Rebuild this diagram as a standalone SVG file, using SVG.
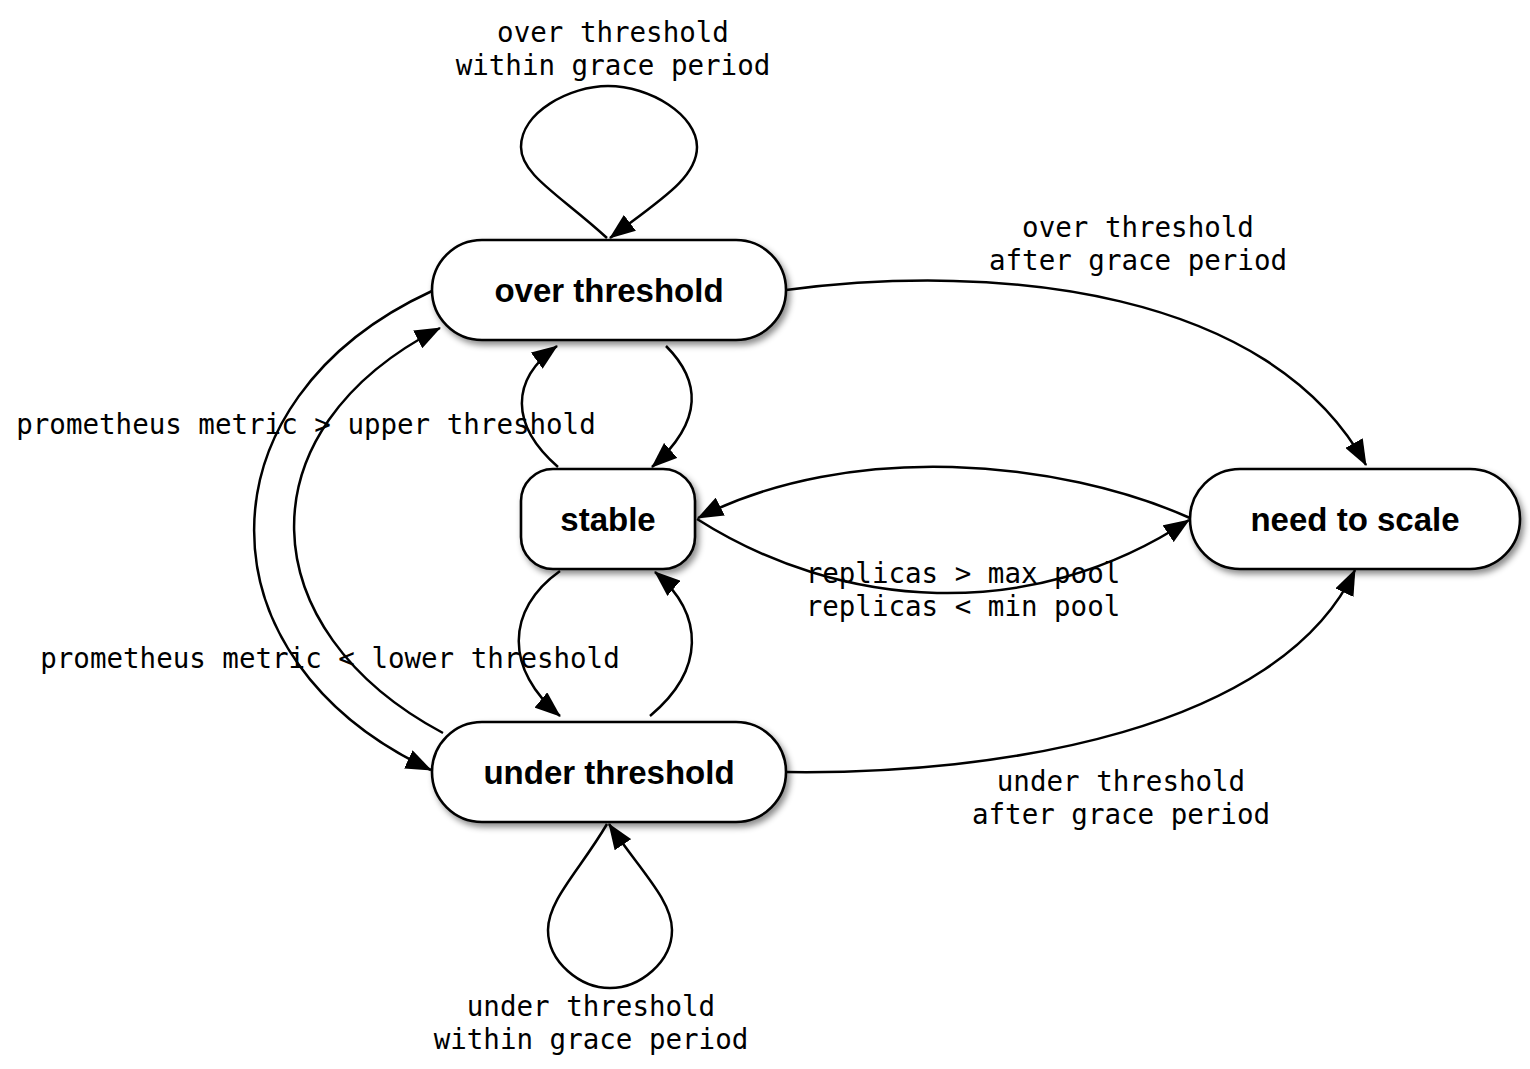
<svg xmlns="http://www.w3.org/2000/svg" width="1530" height="1069" viewBox="0 0 1530 1069">
  <style>
    .node { fill: #ffffff; stroke: #000000; stroke-width: 2.6; filter: url(#shadow); }
    .ntext { font-family: "Liberation Sans", Arial, sans-serif; font-weight: bold; font-size: 33px; fill: #000; text-anchor: middle; }
    .edge { fill: none; stroke: #000000; stroke-width: 2.5; marker-end: url(#arrow); }
    .label { font-family: "DejaVu Sans Mono", "Liberation Mono", monospace; font-size: 27.5px; fill: #000; text-anchor: middle; }
  </style>
  <defs>
    <filter id="shadow" x="-10%" y="-20%" width="125%" height="150%">
      <feDropShadow dx="3" dy="4" stdDeviation="3" flood-color="#000" flood-opacity="0.45"/>
    </filter>
    <marker id="arrow" viewBox="0 0 26 20" markerWidth="26" markerHeight="20" refX="25" refY="10" orient="auto" markerUnits="userSpaceOnUse">
      <path d="M0,0 L26,10 L0,20 z" fill="#000"/>
    </marker>
  </defs>
  <rect width="1530" height="1069" fill="#ffffff"/>

  <g id="connectors">
    <path class="edge" d="M607,238 C 560,195 521,175 521,147 C 521,112 570,86 608,86 C 650,86 697,115 697,147 C 697,178 660,200 610,238"/>
    <path class="edge" d="M607,824 C 580,870 548,900 548,930 C 548,962 580,988 610,988 C 640,988 672,962 672,930 C 672,900 640,870 609,824"/>
    <path class="edge" d="M786,290 C 1000,262 1270,290 1366,465"/>
    <path class="edge" d="M1190,518 C 1060,460 850,440 698,518"/>
    <path class="edge" d="M697,519 C 840,610 1030,625 1189,520"/>
    <path class="edge" d="M786,772 C 1000,775 1280,730 1355,570"/>
    <path class="edge" d="M666,346 C 700,380 705,420 652,467"/>
    <path class="edge" d="M558,467 C 510,425 510,380 557,346"/>
    <path class="edge" d="M560,571 C 505,610 505,670 560,716"/>
    <path class="edge" d="M650,716 C 705,670 705,615 655,572"/>
    <path class="edge" d="M432,291 C 195,400 195,660 431,770"/>
    <path class="edge" d="M443,733 C 250,630 240,430 440,328"/>

    <text class="label" x="613" y="42">over threshold</text>
    <text class="label" x="613" y="75">within grace period</text>
    <text class="label" x="1138" y="237">over threshold</text>
    <text class="label" x="1138" y="270">after grace period</text>
    <text class="label" x="306" y="434">prometheus metric &gt; upper threshold</text>
    <text class="label" x="330" y="668">prometheus metric &lt; lower threshold</text>
    <text class="label" x="963" y="583">replicas &gt; max pool</text>
    <text class="label" x="963" y="616">replicas &lt; min pool</text>
    <text class="label" x="1121" y="791">under threshold</text>
    <text class="label" x="1121" y="824">after grace period</text>
    <text class="label" x="591" y="1016">under threshold</text>
    <text class="label" x="591" y="1049">within grace period</text>
  </g>

  <g id="node-over">
    <rect class="node" x="432" y="240" width="354" height="100" rx="50" ry="50"/>
    <text class="ntext" x="609" y="302">over threshold</text>
  </g>
  <g id="node-stable">
    <rect class="node" x="521" y="469" width="174" height="100" rx="32" ry="32"/>
    <text class="ntext" x="608" y="531">stable</text>
  </g>
  <g id="node-scale">
    <rect class="node" x="1190" y="469" width="330" height="100" rx="50" ry="50"/>
    <text class="ntext" x="1355" y="531">need to scale</text>
  </g>
  <g id="node-under">
    <rect class="node" x="432" y="722" width="354" height="100" rx="50" ry="50"/>
    <text class="ntext" x="609" y="784">under threshold</text>
  </g>
</svg>
